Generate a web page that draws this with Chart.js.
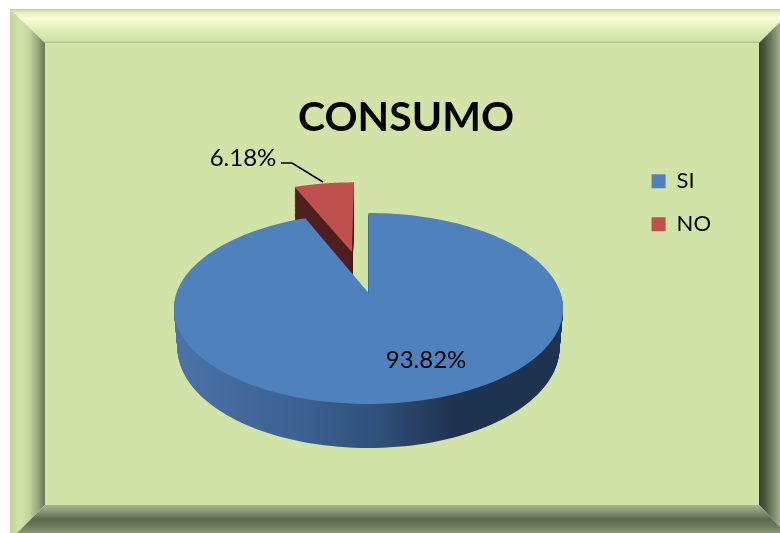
<!DOCTYPE html>
<html>
<head>
<meta charset="utf-8">
<title>CONSUMO</title>
<style>
html, body { margin: 0; padding: 0; background: #fff; overflow: hidden; }
canvas { display: block; }
</style>
<script src="https://cdn.jsdelivr.net/npm/chart.js@4/dist/chart.umd.js"></script>
</head>
<body>
<canvas id="chart" width="780" height="533"></canvas>
<script>
const chartTitle = 'CONSUMO';
const categories = ['SI', 'NO'];
const values = [93.82, 6.18];
const sliceColors = ['#4F81BD', '#C0504D'];

// Perspective view of the pie. y = (a*v + b) / (c*v + 1)
const view = { cx: 368.5, b: 293, a: 45.43, c: -0.1623, r: 192, depth: 38, frontDepth: 6 };
const explode = [0, 0.484];
const shrink = [0.018, 0];

function project(u, v, t, sh) {
    const w = view.c * v + 1;
    const x = view.r * u / w;
    const y = (view.a * v + view.b) / w;
    return [view.cx + x * (1 - sh * t), y + t * (view.depth + view.frontDepth * Math.max(v, 0))];
}

function slicePath(ctx, el, off, t, sh) {
    const mid = (el.startAngle + el.endAngle) / 2;
    const ox = Math.cos(mid) * off, oy = Math.sin(mid) * off;
    const steps = 180;
    ctx.beginPath();
    const first = project(ox, oy, t, sh);
    ctx.moveTo(first[0], first[1]);
    for (let i = 0; i <= steps; i++) {
        const ang = el.startAngle + (el.endAngle - el.startAngle) * i / steps;
        const p = project(ox + Math.cos(ang), oy + Math.sin(ang), t, sh);
        ctx.lineTo(p[0], p[1]);
    }
    ctx.closePath();
}

function drawSlice(ctx, el, off, sh, sideFill) {
    const layers = 46;
    ctx.fillStyle = sideFill;
    for (let i = layers; i > 0; i--) {
        slicePath(ctx, el, off, i / layers, sh);
        ctx.fill();
    }
    ctx.fillStyle = el.options.backgroundColor;
    slicePath(ctx, el, off, 0, sh);
    ctx.fill();
}

function band(ctx, pts, x0, y0, x1, y1, stops) {
    const g = ctx.createLinearGradient(x0, y0, x1, y1);
    stops.forEach(s => g.addColorStop(s[0], s[1]));
    ctx.fillStyle = g;
    ctx.beginPath();
    pts.forEach((p, i) => i ? ctx.lineTo(p[0], p[1]) : ctx.moveTo(p[0], p[1]));
    ctx.closePath();
    ctx.fill();
}

const framePlugin = {
    id: 'frame',
    beforeDraw(chart) {
        const ctx = chart.ctx;
        ctx.save();
        ctx.fillStyle = '#D1E3A6';
        ctx.fillRect(45, 43, 714, 462);
        band(ctx, [[10, 9], [780, 9], [780, 22], [759, 43], [45, 43]], 0, 9, 0, 43, [
            [0, '#BFD098'], [0.1, '#E4EEBF'], [0.28, '#FBFDD8'], [0.6, '#E0EDBA'], [0.94, '#CFE2A5'], [1, '#A9B98A']
        ]);
        band(ctx, [[10, 9], [45, 43], [45, 505], [10, 540]], 10, 0, 45, 0, [
            [0, '#C4D69C'], [0.3, '#D2E3A9'], [0.55, '#C2D39B'], [0.8, '#98A87B'], [1, '#67755A']
        ]);
        band(ctx, [[759, 43], [780, 22], [780, 527], [759, 505]], 759, 0, 780, 0, [
            [0, '#364030'], [0.3, '#4E5945'], [0.7, '#7D8A6C'], [1, '#A3B189']
        ]);
        band(ctx, [[45, 505], [759, 505], [780, 527], [780, 533], [10, 533], [10, 540]], 0, 505, 0, 533, [
            [0, '#A8B690'], [0.2, '#8C9A7A'], [0.5, '#5E6A50'], [0.75, '#6C785C'], [1, '#8D9A78']
        ]);
        ctx.restore();
    }
};

const piePlugin = {
    id: 'pie3d',
    beforeDatasetDraw(chart, args) {
        const ctx = chart.ctx;
        const arcs = args.meta.data;
        const sideGrad = ctx.createLinearGradient(176, 0, 560, 0);
        sideGrad.addColorStop(0, '#4A73A8');
        sideGrad.addColorStop(0.3, '#3D6292');
        sideGrad.addColorStop(0.52, '#31517C');
        sideGrad.addColorStop(0.72, '#1F3350');
        sideGrad.addColorStop(1, '#1E3350');
        ctx.save();
        drawSlice(ctx, arcs[1], explode[1], shrink[1], '#4F1F1F');
        drawSlice(ctx, arcs[0], explode[0], shrink[0], sideGrad);
        ctx.restore();
        return false;
    },
    afterDatasetsDraw(chart) {
        const ctx = chart.ctx;
        ctx.save();
        ctx.fillStyle = '#000';
        ctx.font = '24px Lato';
        ctx.textAlign = 'center';
        ctx.textBaseline = 'middle';
        ctx.fillText(values[0].toFixed(2) + '%', 426, 360);
        ctx.fillText(values[1].toFixed(2) + '%', 243, 158);
        // leader line of the small slice
        ctx.strokeStyle = '#000';
        ctx.lineWidth = 1.5;
        ctx.beginPath();
        ctx.moveTo(281, 163);
        ctx.lineTo(292, 163);
        ctx.lineTo(323, 182);
        ctx.stroke();
        ctx.restore();
    }
};

new Chart(document.getElementById('chart'), {
    type: 'pie',
    data: {
        labels: categories,
        datasets: [{ data: values, backgroundColor: sliceColors, borderWidth: 0 }]
    },
    options: {
        responsive: false,
        animation: false,
        layout: { padding: { left: 91, right: 59, top: 91, bottom: 30 } },
        plugins: {
            tooltip: { enabled: false },
            title: {
                display: true,
                text: chartTitle,
                color: '#000',
                font: { family: 'Lato', size: 41, weight: 'bold' },
                padding: { top: 2, bottom: 7 }
            },
            legend: {
                position: 'right',
                align: 'start',
                fullSize: false,
                labels: {
                    boxWidth: 14,
                    boxHeight: 14,
                    padding: 21,
                    color: '#000',
                    font: { family: 'Lato', size: 22 }
                }
            }
        }
    },
    plugins: [framePlugin, piePlugin]
});
</script>
</body>
</html>
